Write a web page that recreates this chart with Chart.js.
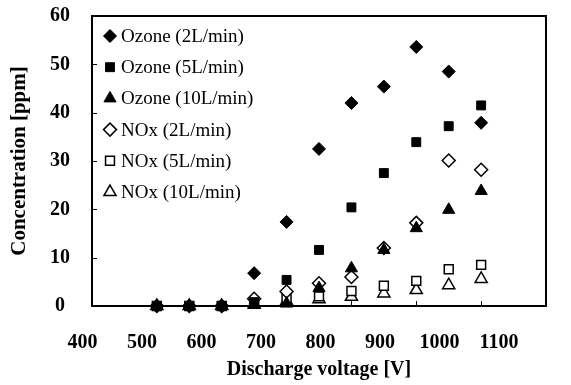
<!DOCTYPE html>
<html>
<head>
<meta charset="utf-8">
<script src="https://cdn.jsdelivr.net/npm/chart.js@4/dist/chart.umd.min.js"></script>
<style>
  html, body { margin: 0; padding: 0; background: #fff; }
  #wrap { width: 571px; height: 385px; }
</style>
</head>
<body>
<div id="wrap"><canvas id="chart"></canvas></div>
<script>
// Discharge voltage [V]
const voltage = [500, 550, 600, 650, 700, 750, 800, 850, 900, 950, 1000];

// Concentration [ppm]
const ozone2 = [0, 0, 0, 6.8, 17.4, 32.5, 42.0, 45.4, 53.6, 48.5, 37.9];
const ozone5 = [0, 0, 0, 0.8, 5.4, 11.6, 20.4, 27.5, 33.9, 37.2, 41.5];
const ozone10 = [0, 0, 0, 0.2, 0.5, 3.7, 7.8, 11.6, 16.1, 19.9, 23.8];
const nox2 = [0, 0, 0, 1.5, 3.0, 4.7, 6.0, 12.0, 17.2, 30.1, 28.2];
const nox5 = [0, 0, 0, 0.7, 1.6, 2.0, 3.1, 4.2, 5.2, 7.6, 8.5];
const nox10 = [0, 0, 0, 0.3, 1.0, 1.4, 1.9, 2.6, 3.3, 4.3, 5.6];

const xTicks = [400, 500, 600, 700, 800, 900, 1000, 1100];
const yTicks = [0, 10, 20, 30, 40, 50, 60];

const serif = "'Liberation Serif', 'Times New Roman', serif";

function points(values) {
  return voltage.map((v, i) => ({ x: v, y: values[i] }));
}

function series(label, values, style, filled, radius) {
  return {
    label: label,
    data: points(values),
    pointStyle: style,
    pointRadius: radius,
    pointHoverRadius: radius,
    backgroundColor: filled ? "#000" : "#fff",
    borderColor: "#000",
    borderWidth: filled ? 1 : 1.5,
    showLine: false,
    clip: false,
  };
}

// Frame and inward tick marks, drawn under the markers
const frameAndTicks = {
  id: "frameAndTicks",
  beforeDatasetsDraw(chart) {
    const { ctx, chartArea: a, scales } = chart;
    ctx.save();
    ctx.strokeStyle = "#000";
    ctx.lineWidth = 1;
    yTicks.forEach((t) => {
      const y = Math.round(scales.y.getPixelForValue(t)) + 0.5;
      ctx.beginPath();
      ctx.moveTo(a.left, y);
      ctx.lineTo(a.left + 5, y);
      ctx.stroke();
    });
    xTicks.forEach((t) => {
      const x = Math.round(scales.x.getPixelForValue(t)) + 0.5;
      ctx.beginPath();
      ctx.moveTo(x, a.bottom);
      ctx.lineTo(x, a.bottom - 5);
      ctx.stroke();
    });
    ctx.lineWidth = 2;
    ctx.strokeRect(a.left, a.top, a.right - a.left, a.bottom - a.top);
    ctx.restore();
  },
};

// Legend inside the plot, top left
const insideLegend = {
  id: "insideLegend",
  afterDatasetsDraw(chart) {
    const ctx = chart.ctx;
    const a = chart.chartArea;
    ctx.save();
    ctx.font = "19px " + serif;
    ctx.textBaseline = "middle";
    chart.data.datasets.forEach((ds, i) => {
      const y = a.top + 20 + i * 31.2;
      const x = a.left + 18;
      ctx.fillStyle = ds.backgroundColor;
      ctx.strokeStyle = ds.borderColor;
      ctx.lineWidth = ds.borderWidth;
      Chart.helpers.drawPoint(
        ctx,
        { pointStyle: ds.pointStyle, radius: ds.pointRadius, borderWidth: ds.borderWidth, rotation: 0 },
        x,
        y
      );
      ctx.fillStyle = "#000";
      ctx.fillText(ds.label, x + 11, y + 1);
    });
    ctx.restore();
  },
};

const tickFont = { family: serif, size: 20, weight: "bold" };

new Chart(document.getElementById("chart"), {
  type: "scatter",
  data: {
    datasets: [
      series("Ozone (2L/min)", ozone2, "rectRot", true, 6.5),
      series("Ozone (5L/min)", ozone5, "rect", true, 6.3),
      series("Ozone (10L/min)", ozone10, "triangle", true, 7),
      series("NOx (2L/min)", nox2, "rectRot", false, 6.5),
      series("NOx (5L/min)", nox5, "rect", false, 6.3),
      series("NOx (10L/min)", nox10, "triangle", false, 7),
    ],
  },
  options: {
    responsive: true,
    maintainAspectRatio: false,
    animation: false,
    layout: { padding: { top: 16, right: 25, left: 0, bottom: 0 } },
    plugins: { legend: { display: false }, tooltip: { enabled: false } },
    scales: {
      x: {
        type: "linear",
        display: false,
        min: 400,
        max: 1100,
      },
      // label axis: Excel spaces its category labels slightly tighter than the plot
      xl: {
        type: "linear",
        position: "bottom",
        min: 416,
        max: 1179,
        afterBuildTicks: (scale) => {
          scale.ticks = xTicks.map((v) => ({ value: v }));
        },
        afterFit: (scale) => {
          scale.height = 79;
          scale.paddingLeft = 0;
          scale.paddingRight = 0;
        },
        grid: { display: false, drawTicks: false },
        border: { display: false },
        ticks: {
          autoSkip: false,
          maxRotation: 0,
          padding: 25,
          color: "#000",
          font: tickFont,
          callback: (v) => String(v),
        },
        title: {
          display: true,
          text: "Discharge voltage [V]",
          color: "#000",
          font: tickFont,
          padding: { top: 0, bottom: 3 },
        },
      },
      y: {
        min: 0,
        max: 60,
        afterBuildTicks: (scale) => {
          scale.ticks = yTicks.map((v) => ({ value: v }));
        },
        afterFit: (scale) => {
          scale.width = 92;
          scale.paddingTop = 0;
          scale.paddingBottom = 0;
        },
        grid: { display: false, drawTicks: false },
        border: { display: false },
        ticks: {
          padding: 22,
          crossAlign: "center",
          color: "#000",
          font: tickFont,
          callback: (v) => String(v),
        },
        title: {
          display: true,
          text: "Concentration [ppm]",
          color: "#000",
          font: { family: serif, size: 21, weight: "bold" },
          padding: { top: 7, bottom: 0 },
        },
      },
    },
  },
  plugins: [frameAndTicks, insideLegend],
});
</script>
</body>
</html>
